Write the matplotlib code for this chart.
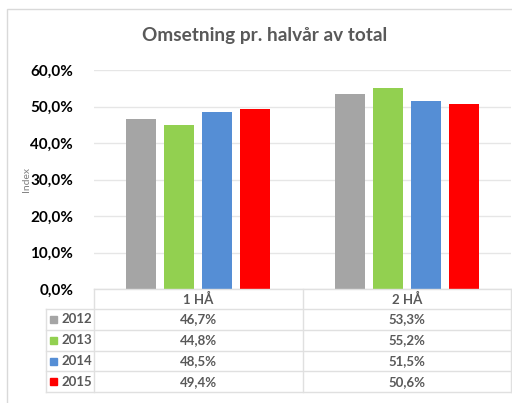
import matplotlib.pyplot as plt
from matplotlib.patches import Rectangle

plt.rcParams['font.family'] = ['Lato', 'DejaVu Sans']

categories = ['1 HÅ', '2 HÅ']
years = ['2012', '2013', '2014', '2015']
values = [
    [46.7, 53.3],
    [44.8, 55.2],
    [48.5, 51.5],
    [49.4, 50.6],
]
colors = ['#a5a5a5', '#92d050', '#558ed5', '#ff0000']
yticks = [0, 10, 20, 30, 40, 50, 60]

W, H = 512, 403
fig = plt.figure(figsize=(W / 100, H / 100), dpi=100)

# outer chart frame
fig.patches.append(Rectangle((7 / W, -0.01), 1.0, (H - 9) / H + 0.01, transform=fig.transFigure,
                             fill=False, edgecolor='#d9d9d9', linewidth=1))

# bar area
ax = fig.add_axes([94 / W, (H - 289) / H, (511 - 94) / W, (289 - 70) / H])
bw = 0.144
step = 0.183
for i, yr in enumerate(years):
    xs = [c + (i - 1.5) * step for c in range(len(categories))]
    ax.bar(xs, values[i], width=bw, color=colors[i], zorder=3)
ax.set_xlim(-0.5, len(categories) - 0.5)
ax.set_ylim(0, 60)
ax.set_yticks(yticks)
ax.set_yticklabels([f'{t:.1f}%'.replace('.', ',') for t in yticks],
                   fontsize=11, fontweight='bold', color='black')
ax.tick_params(axis='y', length=0, pad=15)
ax.set_xticks([])
ax.grid(axis='y', color='#e6e6e6', linewidth=1, zorder=0)
for s in ax.spines.values():
    s.set_visible(False)

fig.text(26 / W, 1 - 180 / H, 'Index', rotation=90, ha='center', va='center',
         fontsize=7.5, color='#808080')
fig.text(265 / W, 1 - 35 / H, 'Omsetning pr. halvår av total', ha='center', va='center',
         fontsize=13.7, fontweight='bold', color='#595959')

# data table below the axis
tab = fig.add_axes([0, 0, 1, 1])
tab.set_xlim(0, W)
tab.set_ylim(H, 0)
tab.axis('off')
lc = '#e0e0e0'
x_left, x_lab, x_mid, x_right = 46, 94, 303, 511
y_head, y_first, row_h = 289, 309, 20.8
tab.plot([x_lab, x_right], [y_head, y_head], color=lc, lw=1)
for k in range(len(years) + 1):
    y = y_first + k * row_h
    tab.plot([x_left, x_right], [y, y], color=lc, lw=1)
y_bot = y_first + len(years) * row_h
tab.plot([x_left, x_left], [y_first, y_bot], color=lc, lw=1)
for x in [x_lab, x_mid, x_right]:
    tab.plot([x, x], [y_head, y_bot], color=lc, lw=1)

centers = [(x_lab + x_mid) / 2, (x_mid + x_right) / 2]
for j, cat in enumerate(categories):
    tab.text(centers[j], (y_head + y_first) / 2, cat, ha='center', va='center',
             fontsize=9.5, fontweight='bold', color='#595959')
for i, yr in enumerate(years):
    yc = y_first + (i + 0.5) * row_h
    tab.add_patch(Rectangle((50, yc - 3.5), 7, 7, color=colors[i]))
    tab.text(61, yc, yr, ha='left', va='center', fontsize=9.5, fontweight='bold', color='#595959')
    for j in range(len(categories)):
        tab.text(centers[j], yc, f'{values[i][j]:.1f}%'.replace('.', ','), ha='center', va='center',
                 fontsize=9.5, fontweight='bold', color='#595959')

fig.savefig('out.png', dpi=100)
